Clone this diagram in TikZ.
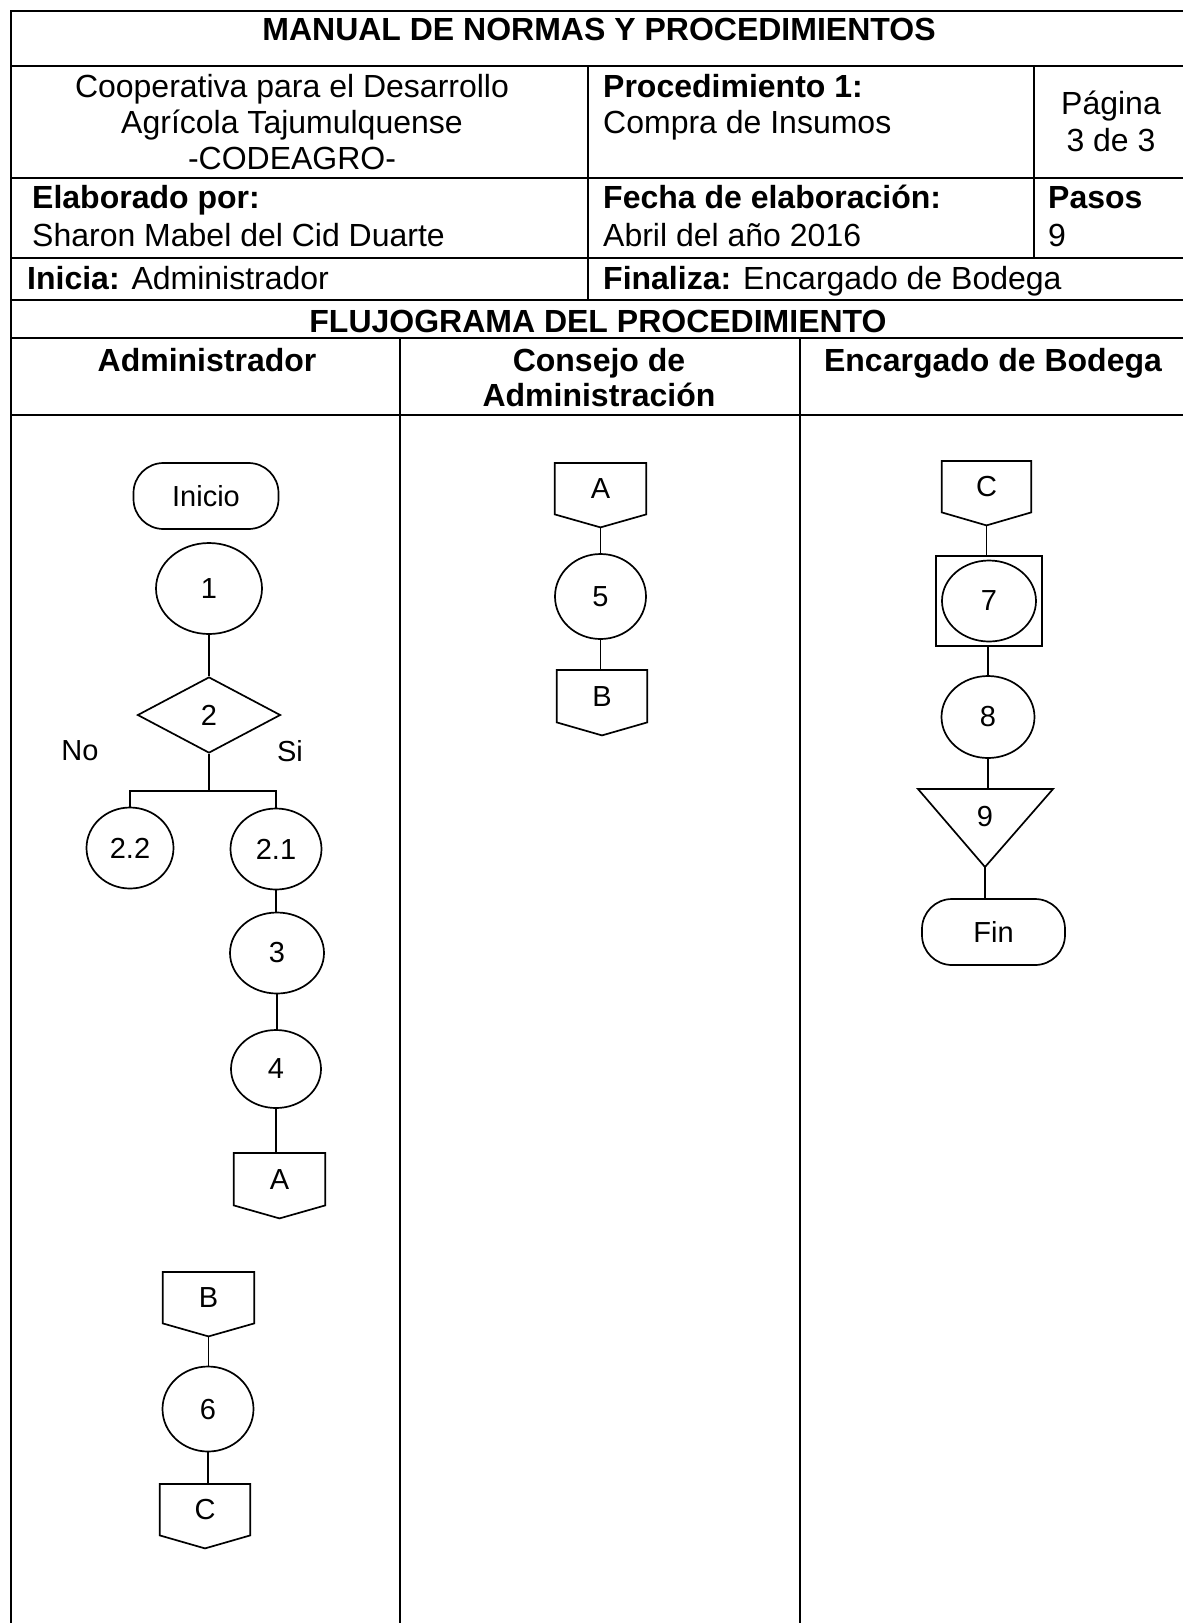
\documentclass[tikz,border=0pt]{standalone}
\usepackage{fontspec}
\setmainfont{Liberation Sans}
\usetikzlibrary{shapes.geometric}
\tikzset{
  tbl/.style={line width=2pt, line cap=rect},
  shp/.style={draw, line width=1.7pt},
  cn/.style={line width=1.7pt},
  hd/.style={font=\fontsize{32}{36}\selectfont, inner sep=0pt},
  fc/.style={font=\fontsize{29}{33}\selectfont, inner sep=0pt},
  ell/.style={shp, ellipse, fc},
}
\newcommand{\offpg}[6]{%
  \node[fc, rectangle, minimum width=#4pt, minimum height=#5pt, anchor=north] (#1) at (#2,#3) {#6};
  \draw[shp, line join=miter] (#1.north west) -- (#1.north east) -- (#1.south east) -- ([yshift=-13pt]#1.south) coordinate (#1-tip) -- (#1.south west) -- cycle;
}
\begin{document}
\begin{tikzpicture}[x=1pt, y=-1pt]
\useasboundingbox[fill=white] (0,0) rectangle (1183,1623);
% ---------- table ----------
\draw[tbl] (11,11) -- (1183,11);
\draw[tbl] (11,11) -- (11,1623);
\foreach \yy in {66,178,258,300,338,415} \draw[tbl] (11,\yy) -- (1183,\yy);
\draw[tbl] (588,66) -- (588,300);
\draw[tbl] (1034,66) -- (1034,258);
\draw[tbl] (400,338) -- (400,1623);
\draw[tbl] (800,338) -- (800,1623);
% ---------- header texts ----------
\node[hd, anchor=base, font=\fontsize{32}{36}\selectfont\bfseries] (ttitle) at (599,40.5) {MANUAL DE NORMAS Y PROCEDIMIENTOS};
\node[hd, anchor=base] (tcoop1) at (292,97) {Cooperativa para el Desarrollo};
\node[hd, anchor=base] (tcoop2) at (292,133) {Agrícola Tajumulquense};
\node[hd, anchor=base] (tcoop3) at (292,169.5) {-CODEAGRO-};
\node[hd, anchor=base west, font=\fontsize{32}{36}\selectfont\bfseries] (tproc) at (603,97) {Procedimiento 1:};
\node[hd, anchor=base west] (tcompra) at (603,133) {Compra de Insumos};
\node[hd, anchor=base] (tpag) at (1111,114) {Página};
\node[hd, anchor=base] (tpag2) at (1111,151) {3 de 3};
\node[hd, anchor=base west, font=\fontsize{32}{36}\selectfont\bfseries] (telab) at (32,208.5) {Elaborado por:};
\node[hd, anchor=base west] (tsharon) at (32,246.5) {Sharon Mabel del Cid Duarte};
\node[hd, anchor=base west, font=\fontsize{32}{36}\selectfont\bfseries] (tfecha) at (603,208.5) {Fecha de elaboración:};
\node[hd, anchor=base west] (tabril) at (603,246.5) {Abril del año 2016};
\node[hd, anchor=base west, font=\fontsize{32}{36}\selectfont\bfseries] (tpasos) at (1048,208.5) {Pasos};
\node[hd, anchor=base west] (tnueve) at (1048,246.5) {9};
\node[hd, anchor=base west] (tinicia) at (27,289) {\bfseries Inicia:\mdseries{} Administrador};
\node[hd, anchor=base west] (tfinal) at (603,289) {\bfseries Finaliza:\mdseries{} Encargado de Bodega};
\node[hd, anchor=base, font=\fontsize{32}{36}\selectfont\bfseries] (tflujo) at (598,332) {FLUJOGRAMA DEL PROCEDIMIENTO};
\node[hd, anchor=base, font=\fontsize{32}{36}\selectfont\bfseries] (tadm) at (207,371) {Administrador};
\node[hd, anchor=base, font=\fontsize{32}{36}\selectfont\bfseries] (tcons1) at (599,371) {Consejo de};
\node[hd, anchor=base, font=\fontsize{32}{36}\selectfont\bfseries] (tcons2) at (599,406) {Administración};
\node[hd, anchor=base, font=\fontsize{32}{36}\selectfont\bfseries] (tenc) at (993,371) {Encargado de Bodega};
% ---------- Administrador lane ----------
\node[shp, fc, rectangle, rounded corners=30pt, minimum width=145pt, minimum height=66pt] (ini) at (206,496) {Inicio};
\node[ell, minimum width=106pt, minimum height=91pt] (c1) at (209,588.5) {1};
\node[shp, fc, diamond, minimum width=143pt, minimum height=76pt] (d2) at (209,715) {2};
\draw[cn] (c1.south) -- (d2.north);
\node[ell, minimum width=87pt, minimum height=81pt] (c22) at (130,848) {2.2};
\node[ell, minimum width=91pt, minimum height=81pt] (c21) at (276,849) {2.1};
\coordinate (br) at (209,791);
\draw[cn] (d2.south) -- (br);
\draw[cn] (c22.north) |- (br) -| (c21.north);
\node[fc] (tno) at (80,751) {No};
\node[fc] (tsi) at (290,751) {Si};
\node[ell, minimum width=94pt, minimum height=81pt] (c3) at (277,953) {3};
\node[ell, minimum width=90pt, minimum height=78pt] (c4) at (276,1069) {4};
\offpg{pa1}{279.5}{1153}{91}{52}{A}
\draw[cn] (c21.south) -- (c21.south |- c3.north);
\draw[cn] (c3.south) -- (c3.south |- c4.north);
\draw[cn] (c4.south) -- (c4.south |- pa1.north);
\offpg{pb1}{208.5}{1272}{91}{51}{B}
\node[ell, minimum width=91pt, minimum height=85pt] (c6) at (208,1409) {6};
\offpg{pc1}{205}{1484}{90}{51}{C}
\draw[cn] (pb1-tip) -- (pb1-tip |- c6.north);
\draw[cn] (c6.south) -- (c6.south |- pc1.north);
% ---------- Consejo lane ----------
\offpg{pa2}{600.5}{463}{91}{51}{A}
\node[ell, minimum width=91pt, minimum height=85pt] (c5) at (600.5,596.5) {5};
\offpg{pb2}{602}{670}{90}{52}{B}
\draw[cn] (pa2-tip) -- (pa2-tip |- c5.north);
\draw[cn] (c5.south) -- (c5.south |- pb2.north);
% ---------- Encargado lane ----------
\offpg{pc2}{986.5}{461}{89}{51}{C}
\node[shp, rectangle, minimum width=106pt, minimum height=90pt, inner sep=0pt] (sq7) at (989,601) {};
\node[ell, minimum width=94pt, minimum height=81pt] (c7) at (989,601) {7};
\node[ell, minimum width=93pt, minimum height=82pt] (c8) at (988,717) {8};
\coordinate (t9top) at (985,789);
\coordinate (t9tip) at (985,867);
\draw[shp, line join=miter] (918,789) -- (1053,789) -- (t9tip) -- cycle;
\node[fc] (t9) at (985,817) {9};
\node[shp, fc, rectangle, rounded corners=30pt, minimum width=143pt, minimum height=66pt] (fin) at (993.5,932) {Fin};
\draw[cn] (pc2-tip) -- (pc2-tip |- sq7.north);
\draw[cn] (sq7.south -| c8.north) -- (c8.north);
\draw[cn] (c8.south) -- (c8.south |- t9top);
\draw[cn] (t9tip) -- (t9tip |- fin.north);
\end{tikzpicture}
\end{document}
